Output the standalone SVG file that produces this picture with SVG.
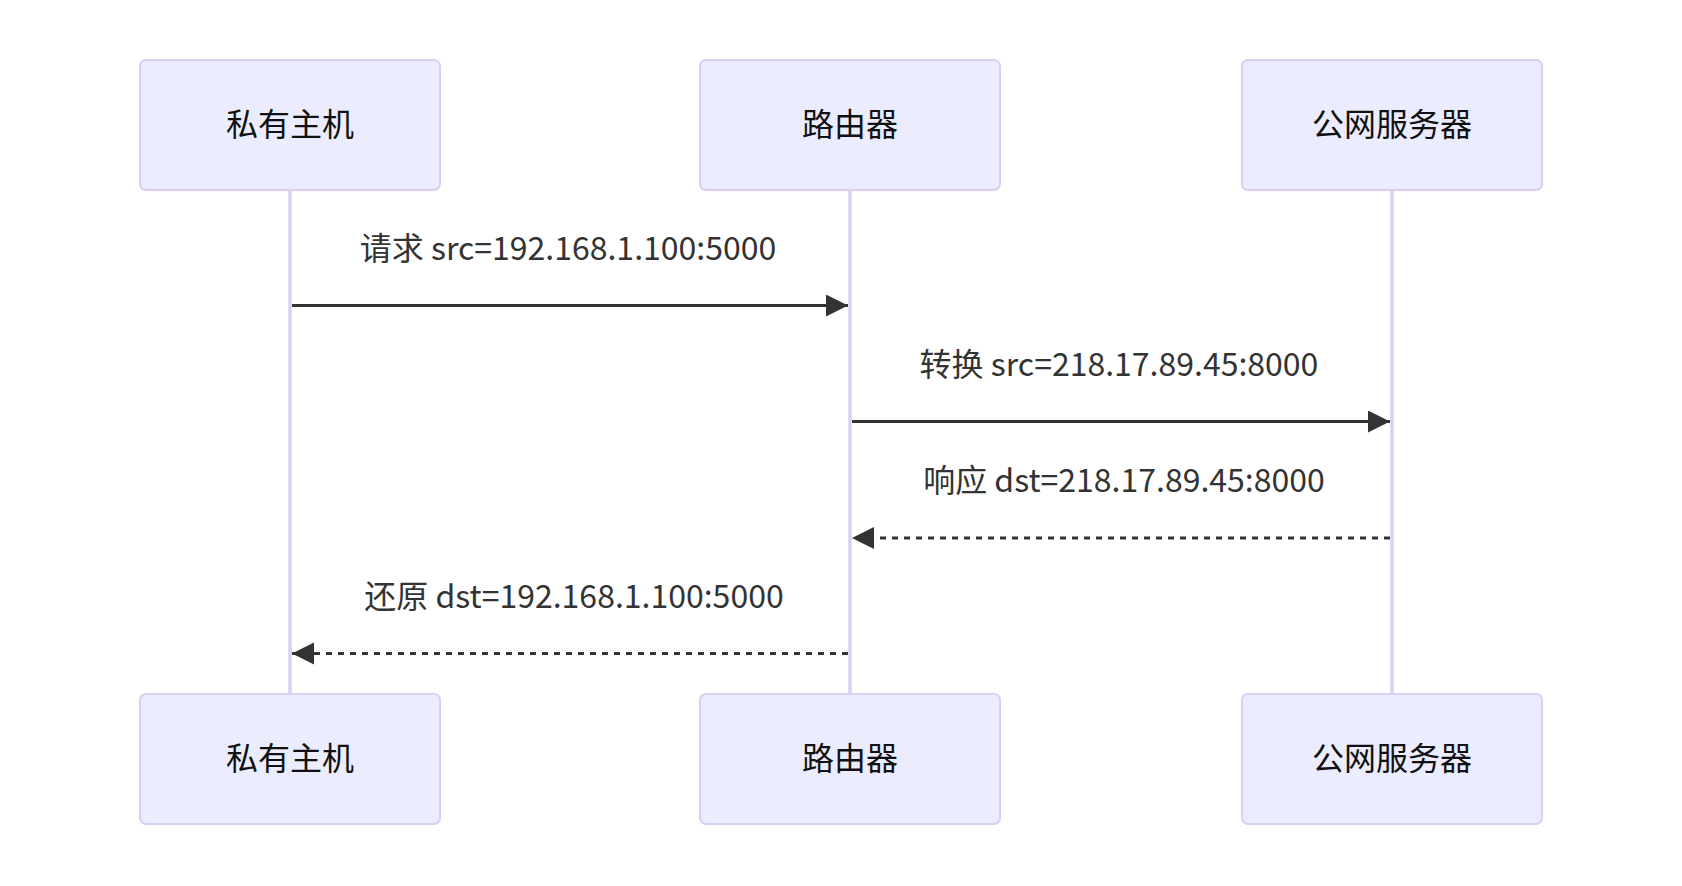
<svg xmlns="http://www.w3.org/2000/svg" width="1682" height="886" viewBox="0 0 1682 886">
  <style>
    .actor rect { fill: #ECECFF; stroke: #DACEF3; stroke-width: 2; }
    .actor text { font-family: "Noto Sans CJK SC", "Noto Sans", sans-serif; font-size: 32px; fill: #111111; text-anchor: middle; }
    .lifeline { stroke: #DACEF3; stroke-width: 3.5; }
    .msg { stroke: #333333; stroke-width: 3; fill: none; }
    .dashed { stroke-dasharray: 6 6; }
    .label { font-family: "Noto Sans CJK SC", "Noto Sans", sans-serif; font-size: 32px; fill: #333333; text-anchor: middle; }
  </style>
  <defs>
    <marker id="arrowhead" markerUnits="userSpaceOnUse" markerWidth="24" markerHeight="24" refX="22" refY="11" orient="auto">
      <path d="M0,0 L22,11 L0,22 z" fill="#333333"/>
    </marker>
  </defs>
  <rect width="1682" height="886" fill="#ffffff"/>

  <g id="lifelines">
    <line class="lifeline" x1="290" y1="190" x2="290" y2="694"/>
    <line class="lifeline" x1="850" y1="190" x2="850" y2="694"/>
    <line class="lifeline" x1="1392" y1="190" x2="1392" y2="694"/>
  </g>

  <g id="actor-host-top" class="actor">
    <rect x="140" y="60" width="300" height="130" rx="6" ry="6"/>
    <text x="290" y="136">私有主机</text>
  </g>
  <g id="actor-router-top" class="actor">
    <rect x="700" y="60" width="300" height="130" rx="6" ry="6"/>
    <text x="850" y="136">路由器</text>
  </g>
  <g id="actor-server-top" class="actor">
    <rect x="1242" y="60" width="300" height="130" rx="6" ry="6"/>
    <text x="1392" y="136">公网服务器</text>
  </g>

  <g id="actor-host-bottom" class="actor">
    <rect x="140" y="694" width="300" height="130" rx="6" ry="6"/>
    <text x="290" y="770">私有主机</text>
  </g>
  <g id="actor-router-bottom" class="actor">
    <rect x="700" y="694" width="300" height="130" rx="6" ry="6"/>
    <text x="850" y="770">路由器</text>
  </g>
  <g id="actor-server-bottom" class="actor">
    <rect x="1242" y="694" width="300" height="130" rx="6" ry="6"/>
    <text x="1392" y="770">公网服务器</text>
  </g>

  <g id="connectors">
    <g id="msg1">
      <text class="label" x="568" y="260">请求 src=192.168.1.100:5000</text>
      <line class="msg" x1="292" y1="305.5" x2="848" y2="305.5" marker-end="url(#arrowhead)"/>
    </g>
    <g id="msg2">
      <text class="label" x="1119" y="376">转换 src=218.17.89.45:8000</text>
      <line class="msg" x1="852" y1="421.5" x2="1390" y2="421.5" marker-end="url(#arrowhead)"/>
    </g>
    <g id="msg3">
      <text class="label" x="1124" y="492">响应 dst=218.17.89.45:8000</text>
      <line class="msg dashed" x1="1390" y1="538" x2="852" y2="538" marker-end="url(#arrowhead)"/>
    </g>
    <g id="msg4">
      <text class="label" x="574" y="608">还原 dst=192.168.1.100:5000</text>
      <line class="msg dashed" x1="848" y1="653.5" x2="292" y2="653.5" marker-end="url(#arrowhead)"/>
    </g>
  </g>
</svg>
